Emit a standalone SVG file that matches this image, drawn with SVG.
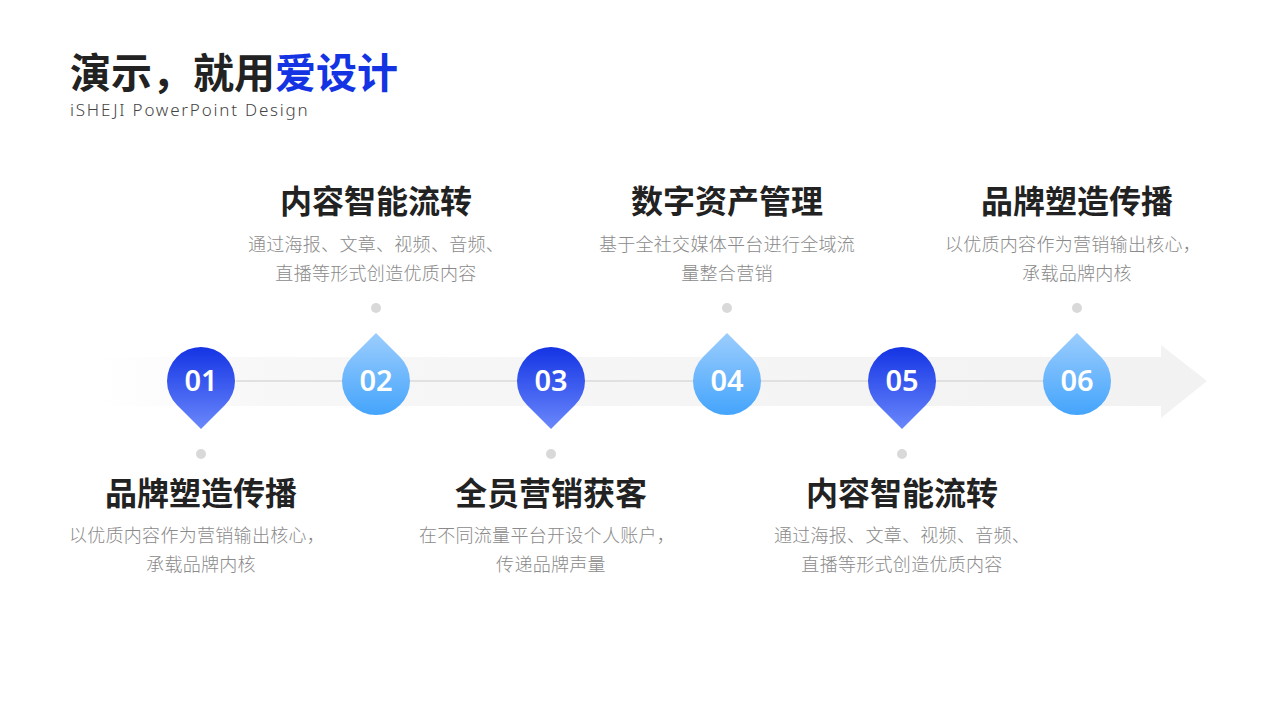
<svg xmlns="http://www.w3.org/2000/svg" width="1280" height="720" viewBox="0 0 1280 720">
<style>
.h{font-family:"Noto Sans CJK SC",sans-serif;font-weight:700;font-size:32px;fill:#222;text-anchor:middle}
.d{font-family:"Noto Sans CJK SC",sans-serif;font-weight:300;font-size:18px;letter-spacing:0.3px;fill:#8a8a8a;text-anchor:middle}
.n{font-family:"Noto Sans","Open Sans",sans-serif;font-weight:600;font-size:29px;fill:#fff;text-anchor:middle}
.dot{fill:#d9d9d9}
</style>
<defs>
<linearGradient id="dn" x1="0" y1="0" x2="0" y2="1"><stop offset="0" stop-color="#1434e4"/><stop offset="1" stop-color="#6a88fb"/></linearGradient>
<linearGradient id="up" x1="0" y1="0" x2="0" y2="1"><stop offset="0" stop-color="#9ccdfd"/><stop offset="1" stop-color="#44a4fc"/></linearGradient>
<linearGradient id="band" x1="0" y1="0" x2="1" y2="0"><stop offset="0" stop-color="#f2f2f2" stop-opacity="0"/><stop offset="0.15" stop-color="#f2f2f2" stop-opacity="0.6"/><stop offset="1" stop-color="#f2f2f2"/></linearGradient>
<path id="dd" d="M0,48 L-24,24 A34,34 0 1 1 24,24 Z"/>
<path id="du" d="M0,-48 L24,-24 A34,34 0 1 1 -24,-24 Z"/>
</defs>
<text x="70" y="88" font-family="Noto Sans CJK SC,sans-serif" font-weight="700" font-size="41" fill="#222">演示，就用<tspan fill="#1434e4">爱设计</tspan></text>
<text x="70" y="116" font-family="Noto Sans,sans-serif" font-weight="300" font-size="17" fill="#444" letter-spacing="1.8">iSHEJI PowerPoint Design</text>
<g id="connectors">
<path d="M100,357 H1161 V345 L1207,381 L1161,418 V406 H100 Z" fill="url(#band)"/>
<line x1="236" y1="381" x2="1043" y2="381" stroke="#dadada" stroke-width="1.5"/>
</g>
<g id="n1"><use href="#dd" x="201" y="381" fill="url(#dn)"/><text class="n" x="201" y="391">01</text><circle class="dot" cx="201" cy="454" r="5"/><text class="h" x="201" y="505">品牌塑造传播</text><text class="d" x="197" y="542">以优质内容作为营销输出核心，</text><text class="d" x="201" y="571">承载品牌内核</text></g>
<g id="n2"><use href="#du" x="376" y="381" fill="url(#up)"/><text class="n" x="376" y="391">02</text><circle class="dot" cx="376" cy="308" r="5"/><text class="h" x="376" y="213">内容智能流转</text><text class="d" x="376" y="251">通过海报、文章、视频、音频、</text><text class="d" x="376" y="280">直播等形式创造优质内容</text></g>
<g id="n3"><use href="#dd" x="551" y="381" fill="url(#dn)"/><text class="n" x="551" y="391">03</text><circle class="dot" cx="551" cy="454" r="5"/><text class="h" x="551" y="505">全员营销获客</text><text class="d" x="547" y="542">在不同流量平台开设个人账户，</text><text class="d" x="551" y="571">传递品牌声量</text></g>
<g id="n4"><use href="#du" x="727" y="381" fill="url(#up)"/><text class="n" x="727" y="391">04</text><circle class="dot" cx="727" cy="308" r="5"/><text class="h" x="727" y="213">数字资产管理</text><text class="d" x="727" y="251">基于全社交媒体平台进行全域流</text><text class="d" x="727" y="280">量整合营销</text></g>
<g id="n5"><use href="#dd" x="902" y="381" fill="url(#dn)"/><text class="n" x="902" y="391">05</text><circle class="dot" cx="902" cy="454" r="5"/><text class="h" x="902" y="505">内容智能流转</text><text class="d" x="902" y="542">通过海报、文章、视频、音频、</text><text class="d" x="902" y="571">直播等形式创造优质内容</text></g>
<g id="n6"><use href="#du" x="1077" y="381" fill="url(#up)"/><text class="n" x="1077" y="391">06</text><circle class="dot" cx="1077" cy="308" r="5"/><text class="h" x="1077" y="213">品牌塑造传播</text><text class="d" x="1073" y="251">以优质内容作为营销输出核心，</text><text class="d" x="1077" y="280">承载品牌内核</text></g>
</svg>
